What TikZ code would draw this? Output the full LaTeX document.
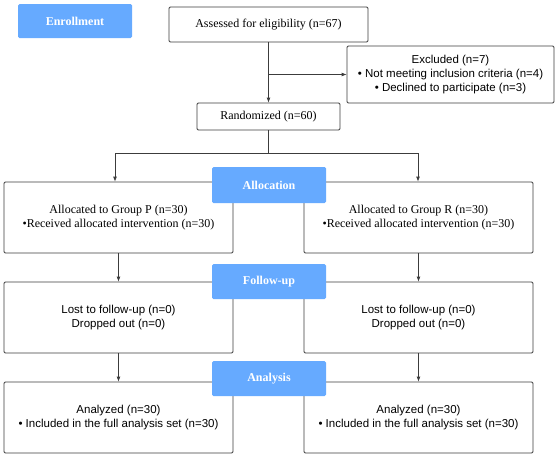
\documentclass[tikz,border=0pt]{standalone}
\usepackage{fontspec}
\setmainfont{Liberation Serif}
\newfontfamily\sansf{Liberation Sans}
\usetikzlibrary{arrows.meta}
\definecolor{lblblue}{RGB}{102,170,255}
\definecolor{edge}{RGB}{60,60,60}
\tikzset{
  box/.style={draw=edge, line width=0.8pt, fill=white, rounded corners=1.2pt, inner sep=0pt, align=center},
  serifbox/.style={box, font=\fontsize{12}{14}\selectfont},
  sansbox/.style={box, font=\sansf\fontsize{11.5}{14}\selectfont},
  phase/.style={fill=lblblue, rounded corners=1.5pt, minimum width=114pt, minimum height=35pt, inner sep=0pt,
    text=white, font=\bfseries\fontsize{12}{14}\selectfont},
  conn/.style={draw=edge, line width=0.8pt},
  arr/.style={conn, -{Latex[length=5pt,width=4pt]}},
}
\begin{document}
\begin{tikzpicture}[x=1pt,y=-1pt]
\useasboundingbox (0,0) rectangle (557,458);
% boxes
\node[serifbox, minimum width=199pt, minimum height=35pt] (assess) at (268.5,24.5) {Assessed for eligibility (n=67)};
\node[sansbox, minimum width=207pt, minimum height=57pt] (excl) at (450.5,74.5) {Excluded (n=7)\\ \textbullet{} Not meeting inclusion criteria (n=4)\\ \textbullet{} Declined to participate (n=3)};
\node[serifbox, minimum width=143pt, minimum height=27pt] (rand) at (268.5,116.5) {Randomized (n=60)};
\node[serifbox, minimum width=229pt, minimum height=71pt] (gP) at (118.5,217.5) {Allocated to Group P (n=30)\\ \textbullet Received allocated intervention (n=30)};
\node[serifbox, minimum width=229pt, minimum height=71pt] (gR) at (418.5,217.5) {Allocated to Group R (n=30)\\ \textbullet Received allocated intervention (n=30)};
\node[sansbox, minimum width=229pt, minimum height=71pt] (lP) at (118.5,317.5) {Lost to follow-up (n=0)\\ Dropped out (n=0)};
\node[sansbox, minimum width=229pt, minimum height=71pt] (lR) at (418.5,317.5) {Lost to follow-up (n=0)\\ Dropped out (n=0)};
\node[sansbox, minimum width=229pt, minimum height=71pt] (aP) at (118.5,417.5) {Analyzed (n=30)\\ \textbullet{} Included in the full analysis set (n=30)};
\node[sansbox, minimum width=229pt, minimum height=71pt] (aR) at (418.5,417.5) {Analyzed (n=30)\\ \textbullet{} Included in the full analysis set (n=30)};
% phase labels
\node[phase, minimum height=34pt] (enroll) at (75,21) {Enrollment};
\node[phase, minimum height=36pt] (allocl) at (269,185) {Allocation};
\node[phase] (followl) at (269,281.5) {Follow-up};
\node[phase] (analysl) at (269,378.5) {Analysis};
% connectors
\coordinate (exj) at (268.5,74.5);
\coordinate (spl) at (268.5,153);
\coordinate (splL) at (115,153);
\coordinate (splR) at (418,153);
\draw[arr] (assess.south) -- (rand.north);
\draw[arr] (exj) -- (excl.west);
\draw[conn] (rand.south) -- (spl);
\draw[arr] (spl) -- (splL) -- (splL |- gP.north);
\draw[arr] (spl) -- (splR) -- (splR |- gR.north);
\draw[arr] (gP.south) -- (lP.north);
\draw[arr] (gR.south) -- (lR.north);
\draw[arr] (lP.south) -- (aP.north);
\draw[arr] (lR.south) -- (aR.north);
\end{tikzpicture}
\end{document}
